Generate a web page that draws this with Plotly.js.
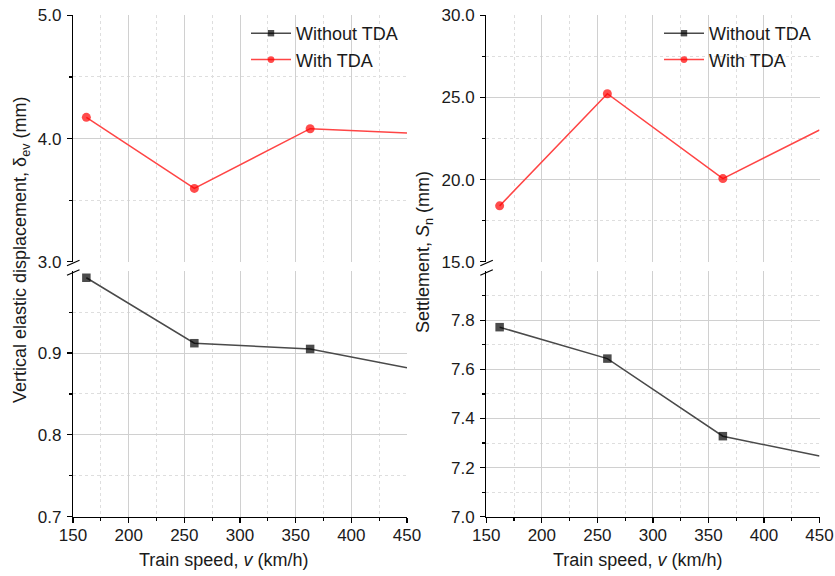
<!DOCTYPE html>
<html>
<head>
<meta charset="utf-8">
<script src="https://cdn.plot.ly/plotly-3.0.1.min.js"></script>
<style>html,body{margin:0;padding:0;background:#fff;}#chart{width:835px;height:576px;}</style>
</head>
<body>
<div id="chart"></div>
<script>
// ---- data ----
const speeds = [162, 259, 363, 450];
const dispWithout = [0.992, 0.912, 0.905, 0.882];
const dispWith = [4.172, 3.595, 4.080, 4.045];
const settleWithout = [7.772, 7.644, 7.328, 7.247];
const settleWith = [18.4, 25.23, 20.06, 23.02];
const seriesNames = ['Without TDA', 'With TDA'];
const xTicks = [150, 200, 250, 300, 350, 400, 450];
const dispLowTicks = [0.7, 0.8, 0.9];
const dispLowMinor = [0.75, 0.85, 0.95];
const dispHighTicks = [3.0, 4.0, 5.0];
const dispHighMinor = [3.5, 4.5];
const settleLowTicks = [7.0, 7.2, 7.4, 7.6, 7.8];
const settleLowMinor = [7.1, 7.3, 7.5, 7.7, 7.9];
const settleHighTicks = [15.0, 20.0, 25.0, 30.0];
const settleHighMinor = [17.5, 22.5, 27.5];

// ---- styles ----
const W = 835, H = 576;
const FONT = 'Liberation Sans, Arial, sans-serif';
const blackSizes = [8.5, 8.5, 8.5, 0];
const redSizes = [9, 9, 9, 0];
const lineBlack = {color: '#4a4a4a', width: 1.5};
const lineRed = {color: '#ff4545', width: 1.5};

const leftX = [73 / W, 407 / W];
const rightX = [486.3 / W, 819.5 / W];
const lowY = [(H - 516.7) / H, (H - 271.2) / H];
const highY = [(H - 261.7) / H, (H - 15.4) / H];

const traces = [
  {x: speeds, y: dispWithout, xaxis: 'x', yaxis: 'y', name: seriesNames[0], legend: 'legend',
   mode: 'lines+markers', line: lineBlack, marker: {symbol: 'square', color: '#000', size: blackSizes, line: {width: 0}}, cliponaxis: false},
  {x: speeds, y: dispWith, xaxis: 'x2', yaxis: 'y2', name: seriesNames[1], legend: 'legend',
   mode: 'lines+markers', line: lineRed, marker: {symbol: 'circle', color: '#ff0000', size: redSizes, line: {width: 0}}, cliponaxis: false},
  {x: speeds, y: settleWithout, xaxis: 'x3', yaxis: 'y3', name: seriesNames[0], legend: 'legend2',
   mode: 'lines+markers', line: lineBlack, marker: {symbol: 'square', color: '#000', size: blackSizes, line: {width: 0}}, cliponaxis: false},
  {x: speeds, y: settleWith, xaxis: 'x4', yaxis: 'y4', name: seriesNames[1], legend: 'legend2',
   mode: 'lines+markers', line: lineRed, marker: {symbol: 'circle', color: '#ff0000', size: redSizes, line: {width: 0}}, cliponaxis: false}
];

const tickFont = {family: FONT, size: 17, color: '#1a1a1a'};
const gridMajor = '#d0d0d0';
const gridMinor = '#dedede';
const minorDash = '3px,3px';

function bottomX(domain, anchor) {
  return {domain: domain, anchor: anchor, range: [150, 450], tickmode: 'array', tickvals: xTicks,
    ticks: 'outside', ticklen: 5, tickwidth: 1.2, tickcolor: '#000', showline: true, linecolor: '#000', linewidth: 1.2,
    showgrid: true, gridcolor: gridMajor, gridwidth: 1, zeroline: false, tickfont: tickFont, ticklabelstandoff: -2,
    minor: {dtick: 25, tick0: 150, ticks: 'outside', ticklen: 3, tickcolor: '#000', showgrid: true, griddash: minorDash, gridcolor: gridMinor}};
}
function topX(domain, anchor, match) {
  return {domain: domain, anchor: anchor, range: [150, 450], matches: match, tickmode: 'array', tickvals: xTicks,
    ticks: '', showticklabels: false, showline: false, showgrid: true, gridcolor: gridMajor, zeroline: false,
    minor: {dtick: 25, tick0: 150, ticks: '', showgrid: true, griddash: minorDash, gridcolor: gridMinor}};
}
function yAx(domain, anchor, range, tv, mv) {
  return {domain: domain, anchor: anchor, range: range, tickmode: 'array', tickvals: tv, tickformat: '.1f',
    ticks: 'outside', ticklen: 5, tickwidth: 1.2, tickcolor: '#000', showline: true, linecolor: '#000', linewidth: 1.2,
    showgrid: true, gridcolor: gridMajor, zeroline: false, tickfont: tickFont, ticklabelstandoff: 2,
    minor: {tickmode: 'array', tickvals: mv, ticks: 'outside', ticklen: 3, tickcolor: '#000', showgrid: true, griddash: minorDash, gridcolor: gridMinor}};
}

// break marks
const shapes = [];
function brk(px) {
  const ys = [263, 272.5];
  ys.forEach(function (y) {
    shapes.push({type: 'line', xref: 'paper', yref: 'paper',
      x0: (px - 6) / W, y0: (H - (y + 2.8)) / H, x1: (px + 6.5) / W, y1: (H - (y - 2.8)) / H,
      line: {color: '#000', width: 1.2}});
  });
}
brk(73); brk(486.3);

const annFont = {family: FONT, size: 18, color: '#1a1a1a'};
const annotations = [
  {text: 'Vertical elastic displacement, δ<sub>ev</sub> (mm)', xref: 'paper', yref: 'paper', x: 21 / W, y: (H - 250) / H,
   textangle: -90, showarrow: false, xanchor: 'center', yanchor: 'middle', font: annFont},
  {text: 'Settlement, <i>S</i><sub>n</sub> (mm)', xref: 'paper', yref: 'paper', x: 424 / W, y: (H - 252) / H,
   textangle: -90, showarrow: false, xanchor: 'center', yanchor: 'middle', font: annFont},
  {text: 'Train speed, <i>v</i> (km/h)', xref: 'paper', yref: 'paper', x: 223 / W, y: (H - 560) / H,
   showarrow: false, xanchor: 'center', yanchor: 'middle', font: annFont},
  {text: 'Train speed, <i>v</i> (km/h)', xref: 'paper', yref: 'paper', x: 637 / W, y: (H - 560) / H,
   showarrow: false, xanchor: 'center', yanchor: 'middle', font: annFont}
];

const legFont = {family: FONT, size: 18, color: '#1a1a1a'};
const layout = {
  width: W, height: H, margin: {l: 0, r: 0, t: 0, b: 0}, paper_bgcolor: '#fff', plot_bgcolor: '#fff',
  showlegend: true, font: {family: FONT},
  legend: {x: 246 / W, y: (H - 15) / H, xanchor: 'left', yanchor: 'top', bgcolor: 'rgba(0,0,0,0)', font: legFont, itemwidth: 40, tracegroupgap: 0},
  legend2: {x: 659 / W, y: (H - 15) / H, xanchor: 'left', yanchor: 'top', bgcolor: 'rgba(0,0,0,0)', font: legFont, itemwidth: 40, tracegroupgap: 0},
  xaxis: bottomX(leftX, 'y'),
  yaxis: yAx(lowY, 'x', [0.7, 1.0], dispLowTicks, dispLowMinor),
  xaxis2: topX(leftX, 'y2', 'x'),
  yaxis2: yAx(highY, 'x2', [3, 5], dispHighTicks, dispHighMinor),
  xaxis3: bottomX(rightX, 'y3'),
  yaxis3: yAx(lowY, 'x3', [7.0, 8.0], settleLowTicks, settleLowMinor),
  xaxis4: topX(rightX, 'y4', 'x3'),
  yaxis4: yAx(highY, 'x4', [15, 30], settleHighTicks, settleHighMinor),
  shapes: shapes, annotations: annotations
};
Plotly.newPlot('chart', traces, layout, {staticPlot: true, displayModeBar: false});
</script>
</body>
</html>
